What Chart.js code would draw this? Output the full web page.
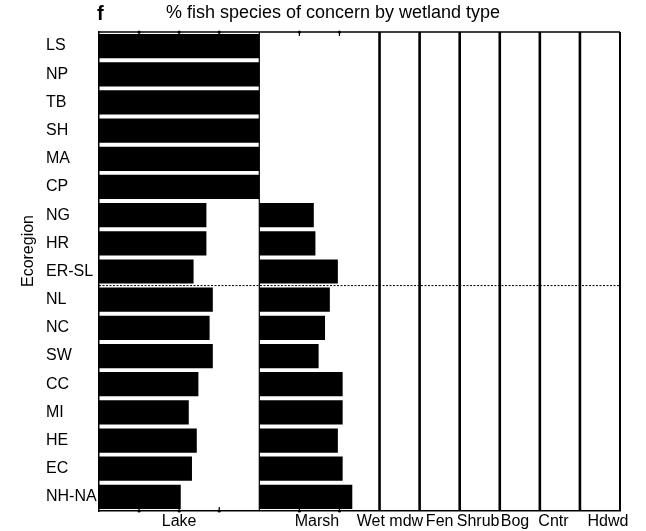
<!DOCTYPE html>
<html>
<head>
<meta charset="utf-8">
<script src="https://cdn.jsdelivr.net/npm/chart.js@4/dist/chart.umd.min.js"></script>
<style>
  html, body { margin: 0; padding: 0; background: #fff; }
  #wrap { width: 646px; height: 531px; }
</style>
</head>
<body>
<div id="wrap"><canvas id="c" width="646" height="531"></canvas></div>
<script>
// Ecoregions, top to bottom
const ecoregions = ['LS', 'NP', 'TB', 'SH', 'MA', 'CP', 'NG', 'HR', 'ER-SL',
                    'NL', 'NC', 'SW', 'CC', 'MI', 'HE', 'EC', 'NH-NA'];

// Wetland types along the x axis and the % span reserved for each one
const wetlandTypes = ['Lake', 'Marsh', 'Wet mdw', 'Fen', 'Shrub', 'Bog', 'Cntr', 'Hdwd'];
const bandWidths   = [100, 75, 25, 25, 25, 25, 25, 25];

// % fish species of concern, per wetland type
const lakePct   = [100, 100, 100, 100, 100, 100, 67, 67, 59, 71, 69, 71, 62, 56, 61, 58, 51];
const marshPct  = [0, 0, 0, 0, 0, 0, 34, 35, 49, 44, 41, 37, 52, 52, 49, 52, 58];
const wetMdwPct = [0, 0, 0, 0, 0, 0, 0, 0, 0, 0, 0, 0, 0, 0, 0, 0, 0];
const fenPct    = [0, 0, 0, 0, 0, 0, 0, 0, 0, 0, 0, 0, 0, 0, 0, 0, 0];
const shrubPct  = [0, 0, 0, 0, 0, 0, 0, 0, 0, 0, 0, 0, 0, 0, 0, 0, 0];
const bogPct    = [0, 0, 0, 0, 0, 0, 0, 0, 0, 0, 0, 0, 0, 0, 0, 0, 0];
const cntrPct   = [0, 0, 0, 0, 0, 0, 0, 0, 0, 0, 0, 0, 0, 0, 0, 0, 0];
const hdwdPct   = [0, 0, 0, 0, 0, 0, 0, 0, 0, 0, 0, 0, 0, 0, 0, 0, 0];

// Minor tick marks (% within the Lake and Marsh bands)
const minorTicks = [25, 50, 75, 125, 150];

const seriesByType = [lakePct, marshPct, wetMdwPct, fenPct, shrubPct, bogPct, cntrPct, hdwdPct];

// Start of each band on the shared % axis
const bandStarts = [];
let acc = 0;
bandWidths.forEach(w => { bandStarts.push(acc); acc += w; });
const axisMax = acc;

// Small horizontal nudges so the crowded type names don't collide
const labelNudge = [0, -1.5, -6, 0, -1, -3, -4, 5];
const labelCenters = bandStarts.map((s, i) => s + bandWidths[i] / 2 + labelNudge[i]);

const FONT = 'Liberation Sans, Arial, Helvetica, sans-serif';

const datasets = wetlandTypes.map((name, i) => ({
  label: name,
  data: seriesByType[i].map(v => [bandStarts[i], bandStarts[i] + v]),
  backgroundColor: '#000',
  borderWidth: 0
}));

const panelMarks = {
  id: 'panelMarks',
  afterDatasetsDraw(chart) {
    const { ctx, chartArea: a, scales: { x, y } } = chart;
    ctx.save();
    ctx.strokeStyle = '#000';
    ctx.fillStyle = '#000';

    // top frame line
    ctx.lineWidth = 1.5;
    ctx.beginPath();
    ctx.moveTo(a.left, a.top);
    ctx.lineTo(a.right, a.top);
    ctx.stroke();

    // band boundaries
    bandStarts.slice(1).concat([axisMax]).forEach(v => {
      const px = x.getPixelForValue(v);
      ctx.lineWidth = (v === 100) ? 1.2 : (v === axisMax ? 2 : 2.6);
      ctx.beginPath();
      ctx.moveTo(px, a.top);
      ctx.lineTo(px, a.bottom);
      ctx.stroke();
    });

    // minor ticks, top and bottom, pointing inward
    ctx.lineWidth = 1.2;
    minorTicks.forEach(v => {
      const px = x.getPixelForValue(v);
      ctx.beginPath();
      ctx.moveTo(px, a.top); ctx.lineTo(px, a.top + 4);
      ctx.moveTo(px, a.bottom); ctx.lineTo(px, a.bottom - 4);
      ctx.stroke();
      ctx.beginPath(); ctx.arc(px, a.top, 1.6, 0, Math.PI * 2); ctx.fill();
      ctx.beginPath(); ctx.arc(px, a.bottom, 1.6, 0, Math.PI * 2); ctx.fill();
    });

    // dotted divider between ER-SL and NL
    const yDiv = (y.getPixelForValue(8) + y.getPixelForValue(9)) / 2;
    ctx.lineWidth = 1;
    ctx.setLineDash([2, 1.5]);
    ctx.beginPath();
    ctx.moveTo(a.left, yDiv);
    ctx.lineTo(a.right, yDiv);
    ctx.stroke();
    ctx.setLineDash([]);

    // panel letter
    ctx.font = 'bold 20px ' + FONT;
    ctx.textAlign = 'left';
    ctx.textBaseline = 'alphabetic';
    ctx.fillText('f', a.left - 2, 20);

    // y axis title
    ctx.font = '16px ' + FONT;
    ctx.translate(33, 251);
    ctx.rotate(-Math.PI / 2);
    ctx.textAlign = 'center';
    ctx.textBaseline = 'alphabetic';
    ctx.fillText('Ecoregion', 0, 0);
    ctx.restore();
  }
};

new Chart(document.getElementById('c'), {
  type: 'bar',
  data: { labels: ecoregions, datasets },
  plugins: [panelMarks],
  options: {
    indexAxis: 'y',
    responsive: false,
    animation: false,
    layout: { padding: { top: 2, left: 46, right: 26, bottom: 0 } },
    datasets: {
      bar: { grouped: false, barPercentage: 0.86, categoryPercentage: 1 }
    },
    plugins: {
      legend: { display: false },
      tooltip: { enabled: false },
      title: {
        display: true,
        text: '% fish species of concern by wetland type',
        color: '#000',
        font: { family: FONT, size: 18, weight: 'normal' },
        padding: { top: 0, bottom: 8.4 }
      }
    },
    scales: {
      x: {
        type: 'linear',
        position: 'bottom',
        min: 0,
        max: axisMax,
        afterBuildTicks: ax => { ax.ticks = labelCenters.map(v => ({ value: v })); },
        afterFit: ax => { ax.height = 20; },
        ticks: {
          autoSkip: false,
          maxRotation: 0,
          minRotation: 0,
          padding: 1,
          color: '#000',
          font: { family: FONT, size: 16 },
          callback: (v, i) => wetlandTypes[i]
        },
        grid: { display: false, drawTicks: false },
        border: { display: true, color: '#000', width: 1.5 }
      },
      y: {
        type: 'category',
        position: 'left',
        afterFit: ax => { ax.width = 53; },
        ticks: {
          crossAlign: 'far',
          padding: 0,
          color: '#000',
          font: { family: FONT, size: 16 }
        },
        grid: { display: false, drawTicks: false },
        border: { display: true, color: '#000', width: 1.5 }
      }
    }
  }
});
</script>
</body>
</html>
